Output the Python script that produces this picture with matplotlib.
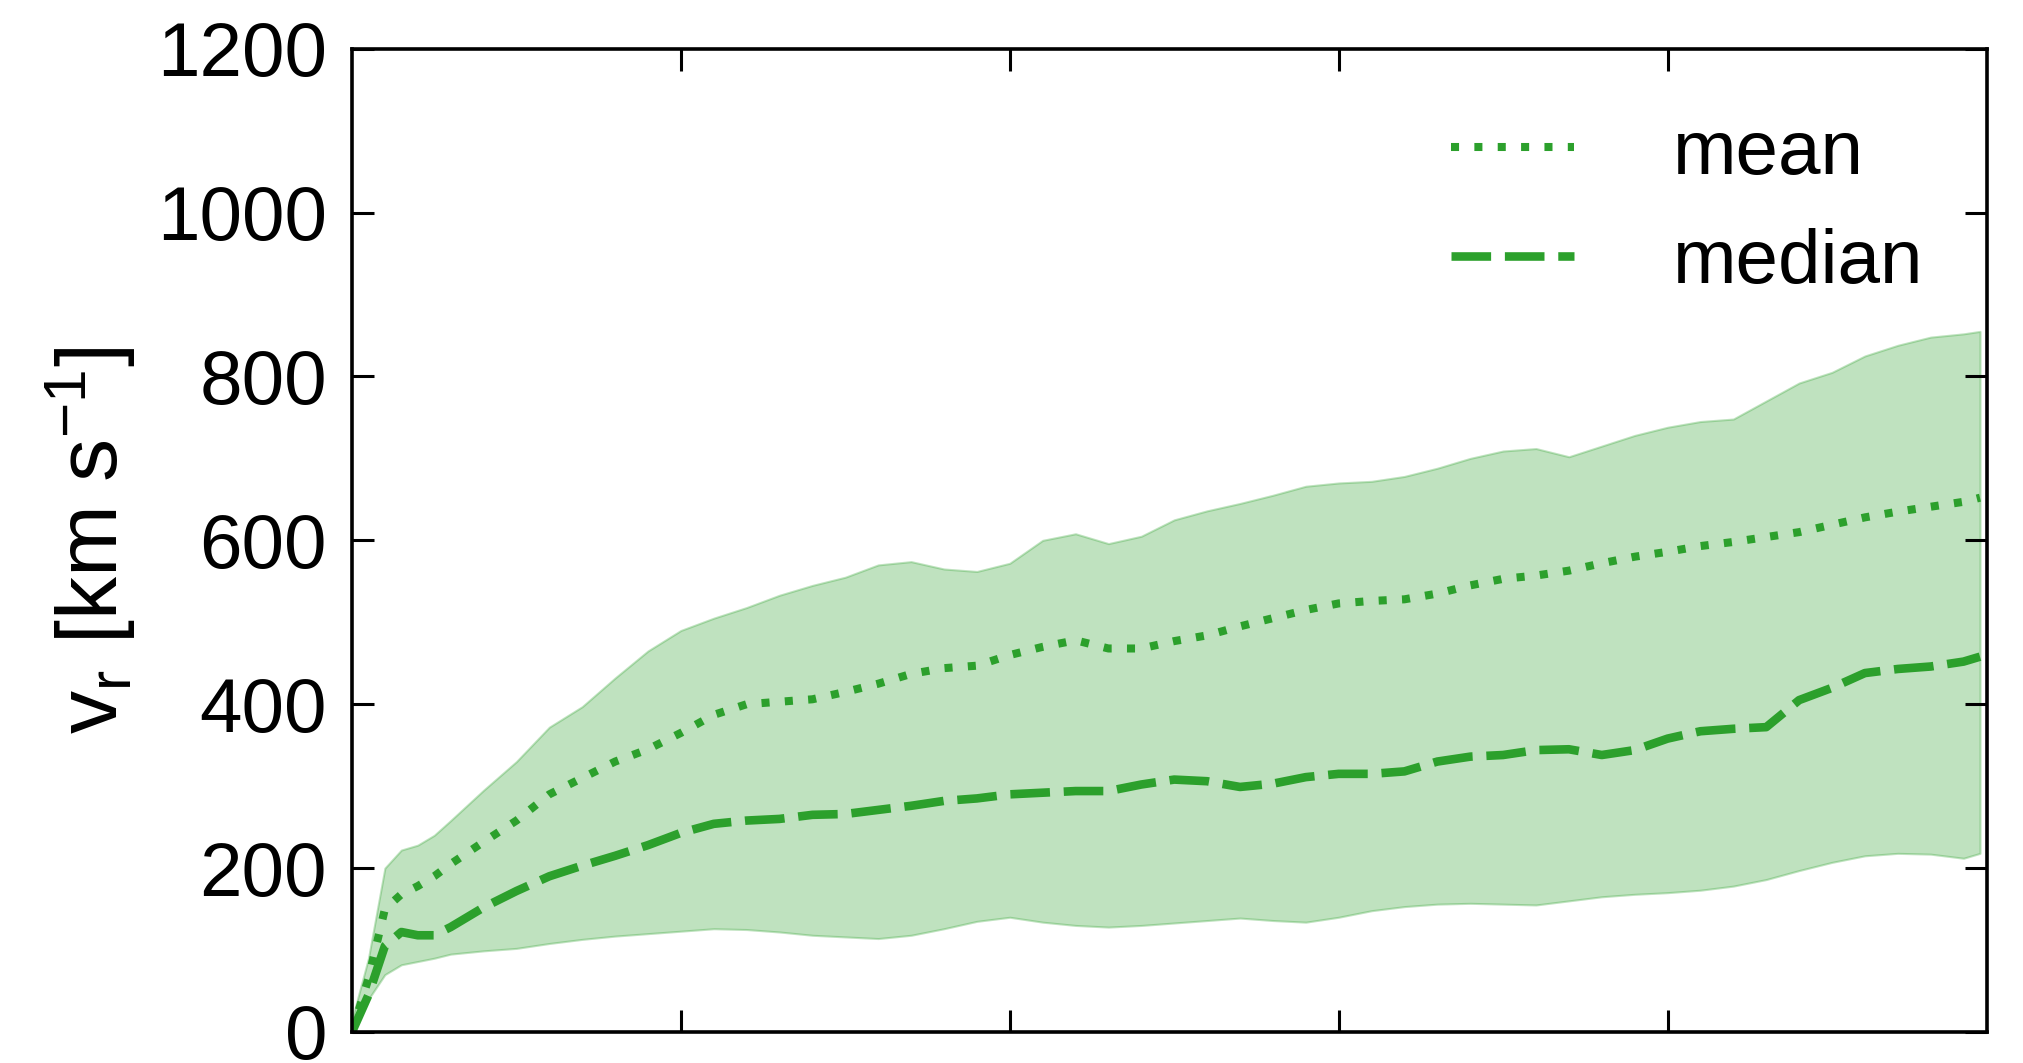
import matplotlib
matplotlib.use('Agg')
import matplotlib.pyplot as plt

# radial velocity statistics along the track
x = [0.0, 0.05, 0.1, 0.15, 0.2, 0.25, 0.3, 0.4, 0.5, 0.6, 0.7, 0.8, 0.9,
     1.0, 1.1, 1.2, 1.3, 1.4, 1.5, 1.6, 1.7, 1.8, 1.9,
     2.0, 2.1, 2.2, 2.3, 2.4, 2.5, 2.6, 2.7, 2.8, 2.9,
     3.0, 3.1, 3.2, 3.3, 3.4, 3.5, 3.6, 3.7, 3.8, 3.9,
     4.0, 4.1, 4.2, 4.3, 4.4, 4.5, 4.6, 4.7, 4.8, 4.9, 4.95]

upper = [15, 90, 200, 222, 228, 240, 258, 295, 330, 372, 397, 432, 465,
         490, 505, 518, 533, 545, 555, 570, 574, 565, 562,
         572, 600, 608, 596, 605, 625, 636, 645, 655, 666,
         670, 672, 678, 688, 700, 709, 712, 702, 715, 728,
         738, 745, 748, 770, 792, 805, 825, 838, 848, 852, 855]

lower = [5, 40, 70, 82, 86, 90, 95, 99, 102, 108, 113, 117, 120,
         123, 126, 125, 122, 118, 116, 114, 118, 126, 135,
         140, 134, 130, 128, 130, 133, 136, 139, 136, 134,
         140, 148, 153, 156, 157, 156, 155, 160, 165, 168,
         170, 173, 178, 186, 197, 207, 215, 218, 217, 212, 218]

mean = [0, 65, 150, 168, 178, 190, 205, 232, 258, 290, 310, 330, 345,
        365, 387, 400, 403, 406, 415, 425, 437, 444, 447,
        460, 470, 478, 468, 468, 477, 484, 495, 505, 515,
        523, 526, 528, 535, 545, 553, 557, 563, 572, 580,
        586, 593, 598, 604, 610, 619, 628, 635, 641, 647, 652]

median = [0, 45, 105, 122, 118, 118, 128, 152, 172, 190, 203, 215, 228,
          243, 254, 258, 260, 265, 266, 271, 276, 282, 285,
          290, 292, 294, 294, 302, 308, 306, 299, 303, 311,
          315, 315, 318, 330, 336, 338, 344, 345, 338, 344,
          358, 367, 370, 372, 405, 420, 438, 443, 446, 452, 458]

y_ticks = [0, 200, 400, 600, 800, 1000, 1200]
x_ticks = [1, 2, 3, 4]

plt.rcParams['font.family'] = ['Liberation Sans', 'DejaVu Sans']
plt.rcParams['mathtext.fontset'] = 'custom'
plt.rcParams['mathtext.rm'] = 'Liberation Sans'
plt.rcParams['mathtext.it'] = 'Liberation Sans:italic'

fig = plt.figure(figsize=(20.23, 10.63), dpi=100)
ax = fig.add_axes([0.174, 0.0292, 0.808, 0.925])

green = '#2ca02c'
ax.fill_between(x, lower, upper, color=green, alpha=0.3, lw=1.5)
ax.plot(x, mean, color=green, lw=5.8, linestyle=(0, (1, 1.9)),
        dash_capstyle='butt', label='mean')
ax.plot(x, median, color=green, lw=6.2, linestyle=(0, (4.6, 1.6)),
        dash_capstyle='butt', label='median')

ax.set_xlim(0, 4.97)
ax.set_ylim(0, 1200)
ax.set_xticks(x_ticks)
ax.set_yticks(y_ticks)
ax.tick_params(direction='in', length=16, width=2.2, labelsize=55, pad=18,
               top=True, right=True, labelbottom=False)
for s in ax.spines.values():
    s.set_linewidth(2.6)

ax.set_ylabel(r'v$_\mathregular{r}$ [km s$^{\mathregular{-1}}$]', fontsize=62, labelpad=14)

ax.legend(loc='upper right', bbox_to_anchor=(0.98, 0.96), frameon=False,
          fontsize=55, handlelength=1.6, handletextpad=1.3, labelspacing=0.5,
          borderaxespad=0)

fig.savefig('out.png', dpi=100)
